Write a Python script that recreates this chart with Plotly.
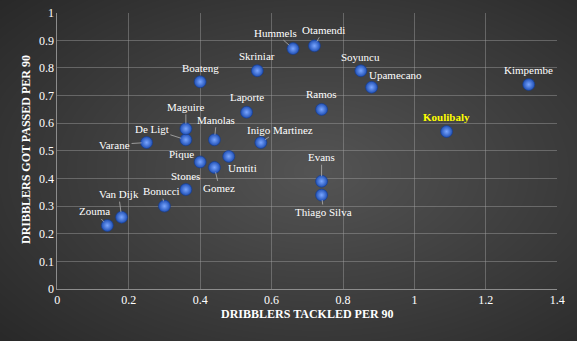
import numpy as np
import plotly.graph_objects as go

players = ["Zouma", "Van Dijk", "Bonucci", "Stones", "Pique", "Gomez", "Umtiti",
           "Varane", "De Ligt", "Maguire", "Manolas", "Inigo Martinez", "Laporte",
           "Boateng", "Skriniar", "Hummels", "Otamendi", "Soyuncu", "Upamecano",
           "Ramos", "Koulibaly", "Kimpembe", "Evans", "Thiago Silva"]
tackled = [0.14, 0.18, 0.30, 0.36, 0.40, 0.44, 0.48,
           0.25, 0.36, 0.36, 0.44, 0.57, 0.53,
           0.40, 0.56, 0.66, 0.72, 0.85, 0.88,
           0.74, 1.09, 1.32, 0.74, 0.74]
passed = [0.23, 0.26, 0.30, 0.36, 0.46, 0.44, 0.48,
          0.53, 0.54, 0.58, 0.54, 0.53, 0.64,
          0.75, 0.79, 0.87, 0.88, 0.79, 0.73,
          0.65, 0.57, 0.74, 0.39, 0.34]

# label placement: (dx, dy, leader) in pixels
label_pos = {
    "Zouma": (-13, -14, True), "Van Dijk": (-3, -23, True), "Bonucci": (-3, -15, True),
    "Stones": (0, 14, False), "Pique": (-19, 8, False), "Gomez": (5, 21, True),
    "Umtiti": (14, -12, False), "Varane": (-32, 2, True), "De Ligt": (-34, -11, True),
    "Maguire": (0, -22, True), "Manolas": (2, -20, True), "Inigo Martinez": (19, -13, True),
    "Laporte": (0, 15, False), "Boateng": (0, 14, False), "Skriniar": (0, 15, False),
    "Hummels": (-18, -16, True), "Otamendi": (9, -16, True), "Soyuncu": (0, 14, False),
    "Upamecano": (24, 12, False), "Ramos": (0, 15, False), "Koulibaly": (0, 15, False),
    "Kimpembe": (0, 15, False), "Evans": (0, -24, True), "Thiago Silva": (2, 17, True),
}

SERIF = "Liberation Serif"

fig = go.Figure()

# background radial gradient (styling only)
gx = np.linspace(0, 1, 80)
gy = np.linspace(0, 1, 50)
GX, GY = np.meshgrid(gx, gy)
d = np.sqrt(((GX - 0.55) / 0.75) ** 2 + ((GY - 0.5) / 0.75) ** 2)
z = np.clip(1 - d, 0, 1)
fig.add_trace(go.Heatmap(x=gx, y=gy, z=z, colorscale=[[0, "#282828"], [1, "#545454"]],
                         zmin=0, zmax=1, showscale=False, zsmooth="best", hoverinfo="skip",
                         xaxis="x", yaxis="y"))

fig.add_trace(go.Scatter(
    x=tackled, y=passed, mode="markers", xaxis="x2", yaxis="y2",
    marker=dict(size=12, color="#1f4fb5",
                gradient=dict(type="radial", color="#7aa6ff"),
                line=dict(width=0.6, color="#163c8c")),
    hoverinfo="text", text=players, showlegend=False))

annotations = []
for name, xv, yv in zip(players, tackled, passed):
    dx, dy, leader = label_pos[name]
    col = "#ffff00" if name == "Koulibaly" else "#ffffff"
    txt = f"<b>{name}</b>" if name == "Koulibaly" else name
    fnt = dict(family=SERIF, size=11, color=col)
    if leader:
        annotations.append(dict(x=xv, y=yv, xref="x2", yref="y2", text=txt, font=fnt,
                                showarrow=True, arrowhead=0, arrowwidth=0.8,
                                arrowcolor="#b0b0b0", ax=dx, ay=dy, standoff=5))
    else:
        annotations.append(dict(x=xv, y=yv, xref="x2", yref="y2", text=txt, font=fnt,
                                showarrow=False, xshift=dx, yshift=dy))

annotations.append(dict(x=307 / 577, y=1 - 323 / 341, xref="paper", yref="paper",
                        text="<b>DRIBBLERS TACKLED PER 90</b>", showarrow=False,
                        font=dict(family=SERIF, size=12, color="#ffffff")))
annotations.append(dict(x=17 / 577, y=1 - 150 / 341, xref="paper", yref="paper",
                        text="<b>DRIBBLERS GOT PASSED PER 90</b>", showarrow=False,
                        textangle=-90,
                        font=dict(family=SERIF, size=12, color="#ffffff")))

axis_common = dict(showgrid=True, gridcolor="rgba(160,160,160,0.45)", gridwidth=1,
                   showline=True, linecolor="#8c8c8c", linewidth=1, zeroline=False,
                   ticks="", automargin=False,
                   tickfont=dict(family=SERIF, size=12, color="#ffffff"))

fig.update_layout(
    width=577, height=341,
    margin=dict(l=0, r=0, t=0, b=0, pad=0),
    paper_bgcolor="#2b2b2b", plot_bgcolor="rgba(0,0,0,0)",
    font=dict(family=SERIF),
    xaxis=dict(domain=[0, 1], range=[0, 1], visible=False, fixedrange=True, automargin=False),
    yaxis=dict(domain=[0, 1], range=[0, 1], visible=False, fixedrange=True, automargin=False),
    xaxis2=dict(domain=[57.3 / 577, 557.3 / 577], anchor="y2", range=[0, 1.4], dtick=0.2,
                tick0=0, **axis_common),
    yaxis2=dict(domain=[1 - 289 / 341, 1 - 12.7 / 341], anchor="x2", range=[0, 1], dtick=0.1,
                tick0=0, **axis_common),
    annotations=annotations,
    showlegend=False,
)

fig.write_html("out.html")
